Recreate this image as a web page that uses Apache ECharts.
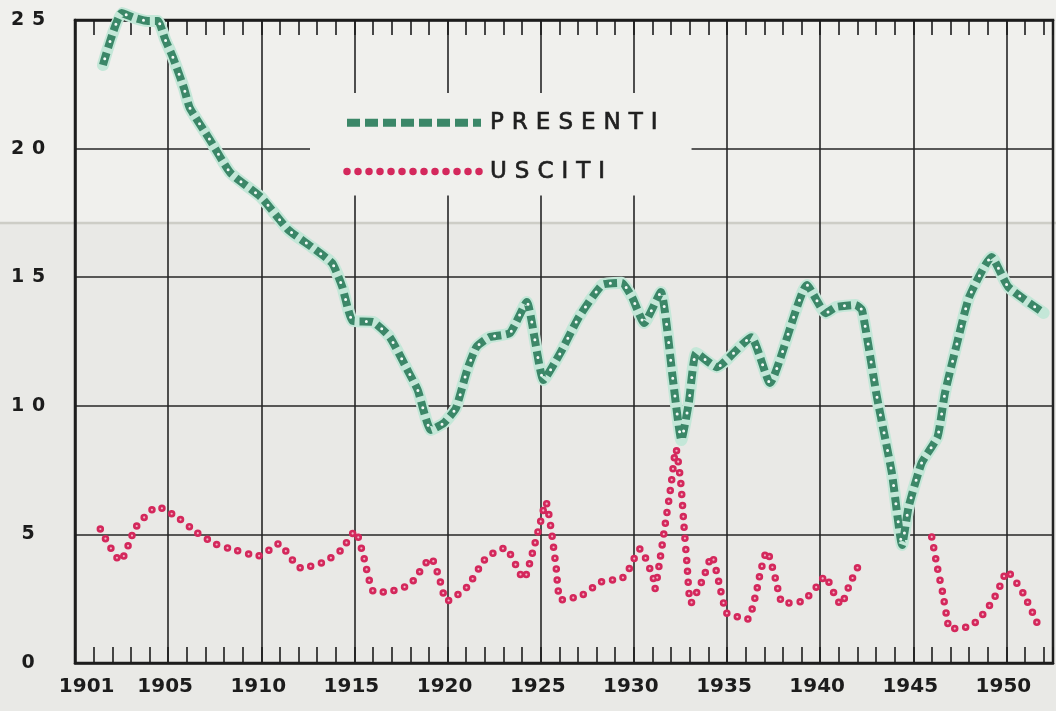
<!DOCTYPE html>
<html>
<head>
<meta charset="utf-8">
<script src="https://cdn.jsdelivr.net/npm/echarts@6/dist/echarts.min.js"></script>
<style>
html,body{margin:0;padding:0;background:#e9e9e6;}
#chart{width:1056px;height:711px;}
</style>
</head>
<body>
<div id="chart"></div>
<script>
// ---- data ----
const yTickLabels = ['0', '5', '10', '15', '20', '25'];
const xTickLabels = [1901, 1905, 1910, 1915, 1920, 1925, 1930, 1935, 1940, 1945, 1950];

const presentiYears = [1901.5, 1902.5, 1903.2, 1903.9, 1904.45, 1904.85, 1905.25, 1905.85, 1906.15, 1907.25,
  1908.35, 1910.0, 1911.45, 1912.7, 1913.8, 1914.35, 1914.9, 1916.0, 1916.9, 1917.85,
  1918.4, 1919.1, 1919.8, 1920.45, 1921.05, 1921.55, 1922.25, 1923.35, 1924.25, 1925.15,
  1926.05, 1927.05, 1928.3, 1929.35, 1929.9, 1930.55, 1931.45, 1932.1, 1932.55, 1932.95,
  1933.35, 1934.45, 1936.3, 1937.3, 1939.3, 1940.3, 1940.85, 1941.9, 1942.25, 1943.05,
  1943.85, 1944.4, 1944.75, 1945.45, 1946.3, 1946.7, 1947.3, 1948.0, 1949.2, 1950.1, 1952.0];
const presentiValues = [23.25, 25.27, 25.08, 24.96, 24.96, 24.22, 23.56, 22.35, 21.6, 20.33,
  19.05, 18.1, 16.84, 16.18, 15.55, 14.62, 13.3, 13.26, 12.67, 11.39,
  10.61, 9.06, 9.33, 9.91, 11.39, 12.29, 12.67, 12.83, 14.04, 11.0,
  12.05, 13.45, 14.7, 14.78, 14.23, 13.22, 14.42, 11.0, 8.67, 10.11,
  12.05, 11.5, 12.67, 10.89, 14.7, 13.6, 13.84, 13.92, 13.72, 10.34,
  7.39, 4.59, 6.07, 7.78, 8.79, 10.5, 12.29, 14.23, 15.79, 14.62, 13.61];

const uscitiYears = [1901.36, 1902.43, 1903.24, 1903.99, 1904.42, 1905.54, 1906.51, 1907.53, 1908.61, 1909.83,
  1910.42, 1910.91, 1912.14, 1913.37, 1914.29, 1915.04, 1915.47, 1916.06, 1916.7, 1917.99,
  1919.11, 1919.54, 1919.97, 1921.04, 1922.06, 1923.08, 1924.1, 1924.48, 1924.96, 1925.28,
  1925.55, 1925.82, 1926.09, 1927.22, 1928.24, 1929.37, 1929.74, 1930.33, 1931.03, 1931.13,
  1931.35, 1931.67, 1931.99, 1932.26, 1932.52, 1932.69, 1932.85, 1933.06, 1933.71, 1934.19,
  1934.51, 1934.99, 1935.58, 1936.12, 1936.55, 1936.81, 1937.14, 1937.62, 1938.0, 1939.07,
  1939.93, 1940.25, 1940.79, 1941.11, 1941.59, 1942.18, 1944.0, 1945.99, 1946.31, 1946.58,
  1946.79, 1946.96, 1947.49, 1948.08, 1948.57, 1949.26, 1949.8, 1950.01, 1950.44, 1950.92,
  1951.51, 1951.78];
const uscitiValues = [5.21, 3.97, 5.25, 5.87, 6.07, 5.64, 5.09, 4.63, 4.39, 4.16,
  4.39, 4.63, 3.69, 3.93, 4.39, 5.13, 4.2, 2.76, 2.76, 3.07,
  4.08, 3.34, 2.41, 2.95, 4.08, 4.47, 3.27, 4.08, 5.4, 6.26,
  5.25, 3.77, 2.45, 2.64, 3.15, 3.3, 3.65, 4.43, 3.34, 2.88,
  3.77, 5.33, 6.88, 8.32, 7.0, 5.33, 3.89, 2.33, 3.27, 4.16,
  3.3, 1.94, 1.79, 1.71, 2.68, 3.58, 4.35, 3.23, 2.33, 2.41,
  3.07, 3.38, 2.64, 2.26, 3.07, 3.97, null, 4.9, 3.65, 2.72,
  1.83, 1.32, 1.36, 1.44, 1.75, 2.41, 3.23, 3.58, 3.23, 2.68,
  1.79, 1.32];

// ---- build ----
const pairs = (xs, ys) => xs.map((x, i) => [x, ys[i]]);
const presentiData = pairs(presentiYears, presentiValues);
const uscitiData = pairs(uscitiYears, uscitiValues);
const spaced = (s, tag) => String(s).split('').map(ch => '{' + tag + '|' + ch + '}').join('');

const INK = '#1c1c1c';
const GREEN = '#3b8768';
const PINK = '#d4285c';
const TOP_BG = '#f0f0ed';

const chart = echarts.init(document.getElementById('chart'), null, {renderer: 'canvas'});
const xBase = {type: 'value', min: 1900, max: 1952.5};

chart.setOption({
  animation: false,
  backgroundColor: '#e9e9e6',
  graphic: [
    {type: 'rect', z: -20, silent: true, shape: {x: 0, y: 0, width: 1056, height: 222}, style: {fill: TOP_BG}},
    {type: 'line', z: -19, silent: true, shape: {x1: 0, y1: 223, x2: 1056, y2: 223}, style: {stroke: 'rgba(170,170,160,0.45)', lineWidth: 2.5}}
  ],
  grid: {left: 75, right: 3, top: 20, bottom: 48, show: true, borderColor: INK, borderWidth: 2.5, backgroundColor: 'transparent'},
  legend: {
    orient: 'vertical', left: 310, top: 93, padding: [18, 30, 12, 33], itemGap: 25,
    itemWidth: 134, itemHeight: 14, selectedMode: false,
    backgroundColor: TOP_BG,
    data: ['PRESENTI', 'USCITI'],
    formatter: name => spaced(name, 'l'),
    lineStyle: {width: 'inherit'},
    itemStyle: {opacity: 0},
    textStyle: {rich: {l: {fontFamily: 'DejaVu Sans', fontSize: 23, color: '#1f1f1f', padding: [0, 4, 0, 4], lineHeight: 26,
      textBorderColor: '#1f1f1f', textBorderWidth: 0.7}}}
  },
  xAxis: [
    Object.assign({}, xBase, {
      position: 'bottom', interval: 1,
      axisLine: {show: true, onZero: false, lineStyle: {color: INK, width: 2.5}},
      axisTick: {show: true, inside: true, length: 16, lineStyle: {color: INK, width: 1.6}},
      axisLabel: {show: true, margin: 14, color: INK, fontFamily: 'DejaVu Sans', fontWeight: 'bold', fontSize: 20,
        formatter: v => {
          const r = Math.round(v);
          if (Math.abs(v - r) > 1e-6 || xTickLabels.indexOf(r) < 0) return '';
          return r === xTickLabels[0] ? '{f|' + r + '}' : '{n|' + r + '}';
        },
        rich: {
          f: {fontFamily: 'DejaVu Sans', fontWeight: 'bold', fontSize: 20, color: INK, padding: [0, 14, 0, 0]},
          n: {fontFamily: 'DejaVu Sans', fontWeight: 'bold', fontSize: 20, color: INK, padding: [0, 6, 0, 0]}
        }},
      splitLine: {show: false}
    }),
    Object.assign({}, xBase, {
      position: 'top', interval: 1,
      axisLine: {show: true, onZero: false, lineStyle: {color: INK, width: 2.5}},
      axisTick: {show: true, inside: true, length: 15, lineStyle: {color: INK, width: 1.6}},
      axisLabel: {show: false},
      splitLine: {show: false}
    }),
    Object.assign({}, xBase, {
      position: 'bottom', interval: 5,
      axisLine: {show: false}, axisTick: {show: false}, axisLabel: {show: false},
      splitLine: {show: true, lineStyle: {color: '#262626', width: 1.6}}
    })
  ],
  yAxis: {
    type: 'value', min: 0, max: 25, interval: 5,
    axisLine: {show: true, lineStyle: {color: INK, width: 2.5}},
    axisTick: {show: false},
    axisLabel: {margin: 47, align: 'center',
      formatter: v => spaced(yTickLabels[Math.round(v / 5)], 'y'),
      rich: {y: {width: 21, align: 'center', fontFamily: 'DejaVu Sans', fontWeight: 'bold', fontSize: 19, color: INK}}},
    splitLine: {show: true, lineStyle: {color: '#262626', width: 1.6}}
  },
  series: [
    {name: 'presenti-halo', type: 'line', data: presentiData, symbol: 'none', smooth: 0.15, z: 3, silent: true, clip: false,
      lineStyle: {color: '#c4e7d8', width: 12, join: 'round', cap: 'round'}},
    {name: 'PRESENTI', type: 'line', data: presentiData, symbol: 'none', smooth: 0.15, z: 4, silent: true, clip: false,
      itemStyle: {color: GREEN},
      lineStyle: {color: GREEN, width: 8, type: [13, 5], join: 'round'}},
    {name: 'presenti-dots', type: 'line', data: presentiData, symbol: 'none', smooth: 0.15, z: 5, silent: true, clip: false,
      lineStyle: {color: '#f4fbf8', width: 3, type: [0, 18], dashOffset: 11.5, cap: 'round'}},
    {name: 'USCITI', type: 'line', data: uscitiData, symbol: 'none', smooth: 0.2, z: 6, silent: true,
      itemStyle: {color: PINK},
      lineStyle: {color: PINK, width: 7.5, type: [0, 11], cap: 'round'}},
    {name: 'usciti-core', type: 'line', data: uscitiData, symbol: 'none', smooth: 0.2, z: 7, silent: true,
      lineStyle: {color: '#f1b3c5', width: 2.2, type: [0, 11], cap: 'round'}}
  ]
});
</script>
</body>
</html>
